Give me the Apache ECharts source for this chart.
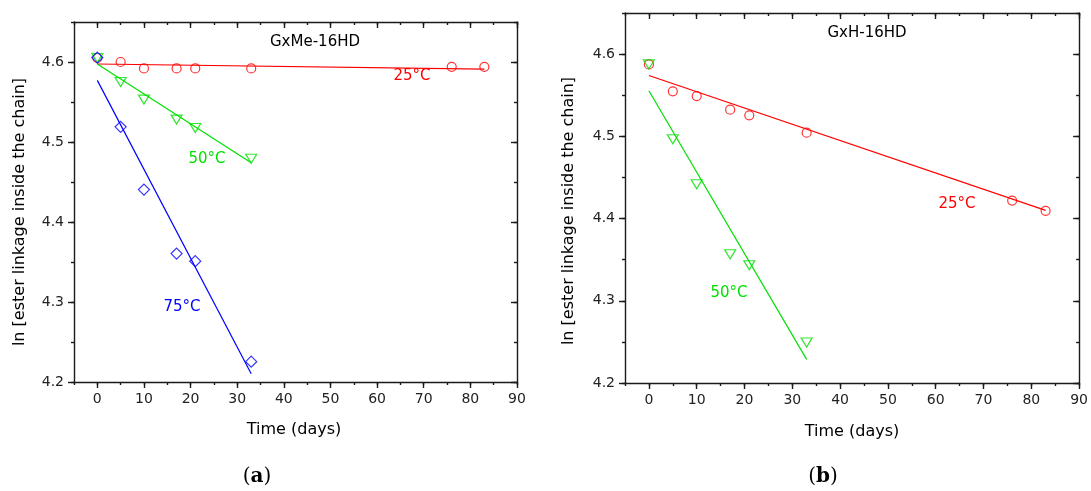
<!DOCTYPE html>
<html>
<head>
<meta charset="utf-8">
<script src="https://cdn.jsdelivr.net/npm/echarts@6/dist/echarts.min.js"></script>
<style>html,body{margin:0;padding:0;background:#fff}#c{width:1091px;height:491px}</style>
</head>
<body>
<div id="c"></div>
<script>
// ---- data ----
const daysShort = [0, 5, 10, 17, 21, 33];
const daysLong = [0, 5, 10, 17, 21, 33, 76, 83];
// (a) GxMe-16HD
const a25 = [4.605, 4.600, 4.592, 4.592, 4.592, 4.592, 4.594, 4.594];
const a50 = [4.605, 4.575, 4.553, 4.528, 4.5175, 4.479];
const a75 = [4.6055, 4.519, 4.4405, 4.3605, 4.351, 4.2254];
const aFitX25 = [0, 83], aFit25 = [4.5975, 4.591];
const aFitX50 = [0, 33], aFit50 = [4.5975, 4.474];
const aFitX75 = [0, 33], aFit75 = [4.577, 4.2104];
// (b) GxH-16HD
const b25 = [4.5875, 4.5547, 4.549, 4.5324, 4.5255, 4.5045, 4.4219, 4.4094];
const b50 = [4.5875, 4.4964, 4.4417, 4.3566, 4.3433, 4.2493];
const bFitX25 = [0, 83], bFit25 = [4.574, 4.41];
const bFitX50 = [0, 33], bFit50 = [4.5555, 4.2287];
// ticks
const xMajorTicks = [0, 10, 20, 30, 40, 50, 60, 70, 80, 90];
const yMajorTicks = [4.2, 4.3, 4.4, 4.5, 4.6];
const xLabel = 'Time (days)';
const yLabel = 'ln [ester linkage inside the chain]';
const titles = ['GxMe-16HD', 'GxH-16HD'];

// ---- styling ----
const RED = '#ff0000', GREEN = '#00e000', BLUE = '#0000ff', AX = '#1a1a1a';
const FONT = 'DejaVu Sans';
const zip = (xs, ys) => xs.map((x, i) => [x, ys[i]]);

function xAxes(gi) {
  const base = {gridIndex: gi, type: 'value', min: -5, max: 90, interval: 5, splitLine: {show: false}};
  const ls = {color: AX, width: 1.4};
  return [
    Object.assign({}, base, {position: 'bottom', axisLine: {show: true, onZero: false, lineStyle: ls},
      axisTick: {show: true, inside: false, length: 3, lineStyle: ls},
      axisLabel: {show: true, margin: 10, fontFamily: FONT, fontSize: 14, color: '#222',
        formatter: v => (Math.round(v) % 10 === 0 && v >= 0) ? String(Math.round(v)) : ''}}),
    Object.assign({}, base, {position: 'bottom', axisLine: {show: false, onZero: false},
      axisTick: {show: true, inside: false, length: 6, customValues: xMajorTicks, lineStyle: ls},
      axisLabel: {show: false}}),
    Object.assign({}, base, {position: 'top', axisLine: {show: true, onZero: false, lineStyle: ls},
      axisTick: {show: true, inside: true, length: 3, lineStyle: ls}, axisLabel: {show: false}}),
    Object.assign({}, base, {position: 'top', axisLine: {show: false, onZero: false},
      axisTick: {show: true, inside: true, length: 6, customValues: xMajorTicks, lineStyle: ls},
      axisLabel: {show: false}})
  ];
}
function yAxes(gi) {
  const base = {gridIndex: gi, type: 'value', min: 4.2, max: 4.65, interval: 0.05, splitLine: {show: false}};
  const ls = {color: AX, width: 1.4};
  return [
    Object.assign({}, base, {position: 'left', axisLine: {show: true, onZero: false, lineStyle: ls},
      axisTick: {show: true, inside: false, length: 3, lineStyle: ls},
      axisLabel: {show: true, margin: 10, fontFamily: FONT, fontSize: 14, color: '#222',
        formatter: v => (Math.round(v * 100) % 10 === 0) ? v.toFixed(1) : ''}}),
    Object.assign({}, base, {position: 'left', axisLine: {show: false, onZero: false},
      axisTick: {show: true, inside: false, length: 6, customValues: yMajorTicks, lineStyle: ls},
      axisLabel: {show: false}}),
    Object.assign({}, base, {position: 'right', axisLine: {show: true, onZero: false, lineStyle: ls},
      axisTick: {show: true, inside: true, length: 3, lineStyle: ls}, axisLabel: {show: false}}),
    Object.assign({}, base, {position: 'right', axisLine: {show: false, onZero: false},
      axisTick: {show: true, inside: true, length: 6, customValues: yMajorTicks, lineStyle: ls},
      axisLabel: {show: false}})
  ];
}

function scatter(ax, data, color, symbol, size, rotate) {
  return {type: 'scatter', xAxisIndex: ax, yAxisIndex: ax, data: data, symbol: symbol,
    symbolSize: size, symbolRotate: rotate || 0,
    itemStyle: {color: 'rgba(0,0,0,0)', borderColor: color, borderWidth: 1.2}, z: 3};
}
function fit(ax, data, color) {
  return {type: 'line', xAxisIndex: ax, yAxisIndex: ax, data: data, symbol: 'none',
    lineStyle: {color: color, width: 1.2}, z: 2};
}

function txt(text, x, y, color, size, rot) {
  return {type: 'text', x: x, y: y, rotation: rot || 0, silent: true,
    style: {text: text, fill: color, font: size + 'px "' + FONT + '"',
      align: 'center', verticalAlign: 'middle', textAlign: 'center', textVerticalAlign: 'middle'}};
}
function caption(letter, x, y) {
  return {type: 'text', x: x, y: y, silent: true,
    style: {text: '({b|' + letter + '})', fill: '#000', font: '20px "DejaVu Serif"',
      align: 'center', verticalAlign: 'middle',
      rich: {b: {fontWeight: 'bold', fontFamily: 'DejaVu Serif', fontSize: 20, fill: '#000'}}}};
}

const chart = echarts.init(document.getElementById('c'));
chart.setOption({
  animation: false,
  backgroundColor: '#fff',
  grid: [
    {left: 74, top: 22, width: 443, height: 360, containLabel: false},
    {left: 625, top: 13, width: 455, height: 370, containLabel: false}
  ],
  xAxis: xAxes(0).concat(xAxes(1)),
  yAxis: yAxes(0).concat(yAxes(1)),
  series: [
    fit(0, zip(aFitX25, aFit25), RED),
    fit(0, zip(aFitX50, aFit50), GREEN),
    fit(0, zip(aFitX75, aFit75), BLUE),
    scatter(0, zip(daysLong, a25), RED, 'circle', 9),
    scatter(0, zip(daysShort, a50), GREEN, 'triangle', [11, 9], 180),
    scatter(0, zip(daysShort, a75), BLUE, 'diamond', [11, 11]),
    fit(4, zip(bFitX25, bFit25), RED),
    fit(4, zip(bFitX50, bFit50), GREEN),
    scatter(4, zip(daysLong, b25), RED, 'circle', 9),
    scatter(4, zip(daysShort, b50), GREEN, 'triangle', [11, 9], 180)
  ],
  graphic: [
    txt(titles[0], 315, 42, '#000', 15),
    txt('25°C', 412, 76, RED, 15),
    txt('50°C', 207, 159, GREEN, 15),
    txt('75°C', 182, 307, BLUE, 15),
    txt(xLabel, 294, 430, '#000', 16),
    txt(yLabel, 20, 212, '#000', 16, Math.PI / 2),
    caption('a', 257, 477),
    txt(titles[1], 867, 33, '#000', 15),
    txt('25°C', 957, 204, RED, 15),
    txt('50°C', 729, 293, GREEN, 15),
    txt(xLabel, 852, 432, '#000', 16),
    txt(yLabel, 569, 211, '#000', 16, Math.PI / 2),
    caption('b', 823, 477)
  ]
});
</script>
</body>
</html>
